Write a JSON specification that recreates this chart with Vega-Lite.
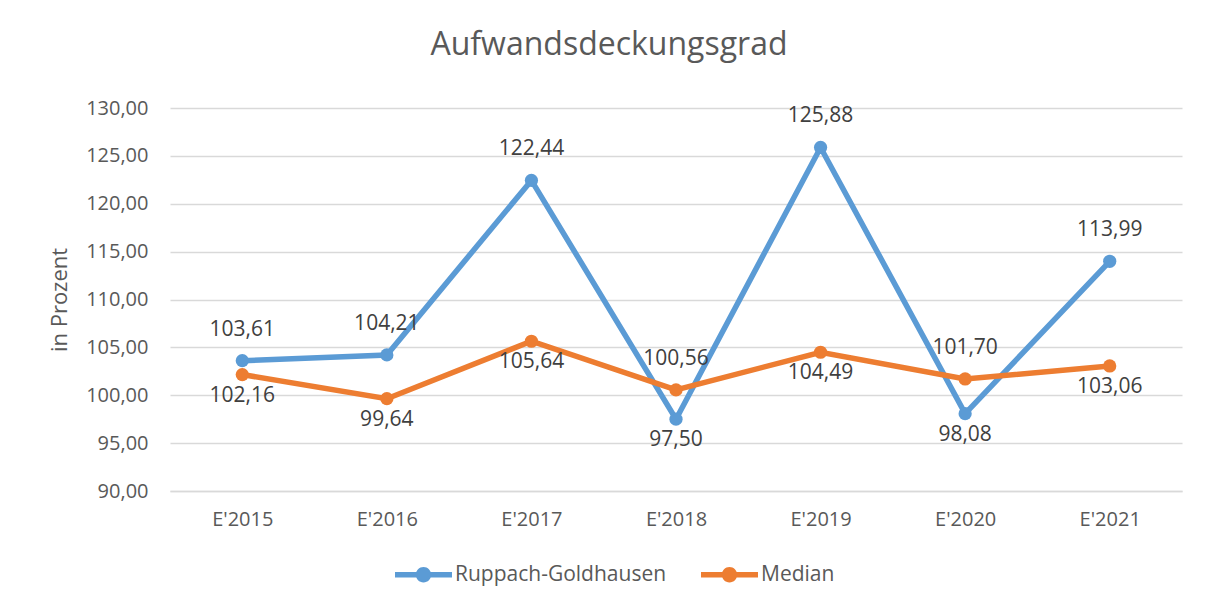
{
  "$schema": "https://vega.github.io/schema/vega-lite/v6.json",
  "width": 1012,
  "height": 383,
  "autosize": {"type": "none"},
  "padding": {"left": 170, "top": 108, "right": 23, "bottom": 117},
  "background": "white",
  "config": {
    "locale": {"number": {"decimal": ",", "thousands": ".", "grouping": [3], "currency": ["", " €"]}},
    "view": {"stroke": null},
    "font": "Open Sans"
  },
  "title": {
    "text": "Aufwandsdeckungsgrad",
    "fontSize": 32,
    "font": "Open Sans",
    "fontWeight": "normal",
    "color": "#595959",
    "anchor": "middle",
    "dx": -67,
    "offset": 36
  },
  "data": {
    "values": [
      {"jahr": "E'2015", "serie": "Ruppach-Goldhausen", "wert": 103.61},
      {"jahr": "E'2016", "serie": "Ruppach-Goldhausen", "wert": 104.21},
      {"jahr": "E'2017", "serie": "Ruppach-Goldhausen", "wert": 122.44},
      {"jahr": "E'2018", "serie": "Ruppach-Goldhausen", "wert": 97.50},
      {"jahr": "E'2019", "serie": "Ruppach-Goldhausen", "wert": 125.88},
      {"jahr": "E'2020", "serie": "Ruppach-Goldhausen", "wert": 98.08},
      {"jahr": "E'2021", "serie": "Ruppach-Goldhausen", "wert": 113.99},
      {"jahr": "E'2015", "serie": "Median", "wert": 102.16},
      {"jahr": "E'2016", "serie": "Median", "wert": 99.64},
      {"jahr": "E'2017", "serie": "Median", "wert": 105.64},
      {"jahr": "E'2018", "serie": "Median", "wert": 100.56},
      {"jahr": "E'2019", "serie": "Median", "wert": 104.49},
      {"jahr": "E'2020", "serie": "Median", "wert": 101.70},
      {"jahr": "E'2021", "serie": "Median", "wert": 103.06}
    ]
  },
  "transform": [
    {"joinaggregate": [{"op": "max", "field": "wert", "as": "maxwert"}], "groupby": ["jahr"]}
  ],
  "encoding": {
    "x": {
      "field": "jahr",
      "type": "ordinal",
      "sort": null,
      "axis": {
        "title": null,
        "labelAngle": 0,
        "labelFontSize": 20,
        "labelFont": "Open Sans",
        "labelColor": "#595959",
        "labelPadding": 18,
        "ticks": false,
        "domainColor": "#d9d9d9",
        "domainWidth": 1.5,
        "grid": false
      }
    },
    "y": {
      "field": "wert",
      "type": "quantitative",
      "scale": {"domain": [90, 130], "nice": false, "zero": false},
      "axis": {
        "title": "in Prozent",
        "titleFontSize": 22,
        "titleFont": "Open Sans",
        "titleFontWeight": "normal",
        "titleColor": "#595959",
        "titlePadding": 14,
        "values": [90, 95, 100, 105, 110, 115, 120, 125, 130],
        "format": ".2f",
        "labelFontSize": 20,
        "labelFont": "Open Sans",
        "labelColor": "#595959",
        "labelPadding": 22,
        "ticks": false,
        "domain": false,
        "grid": true,
        "gridColor": "#d9d9d9",
        "gridWidth": 1.5
      }
    }
  },
  "layer": [
    {
      "mark": {"type": "line", "strokeWidth": 5.5},
      "encoding": {
        "color": {
          "field": "serie",
          "type": "nominal",
          "scale": {"domain": ["Ruppach-Goldhausen", "Median"], "range": ["#5B9BD5", "#ED7D31"]},
          "legend": {
            "title": null,
            "orient": "none",
            "legendX": 225,
            "legendY": 438,
            "direction": "horizontal",
            "symbolType": "M-1,-0.095L-0.24,-0.095L-0.24,0.095L-1,0.095Z M0.24,-0.095L1,-0.095L1,0.095L0.24,0.095Z M-0.27,0A0.27,0.27 0 1,1 0.27,0A0.27,0.27 0 1,1 -0.27,0Z",
            "symbolSize": 3249,
            "symbolStrokeWidth": 0,
            "labelFontSize": 21,
            "labelFont": "Open Sans",
            "labelColor": "#595959",
            "labelOffset": 3,
            "labelLimit": 0,
            "columnPadding": 34
          }
        }
      }
    },
    {
      "mark": {"type": "point", "filled": true, "size": 175, "opacity": 1},
      "encoding": {
        "color": {
          "field": "serie",
          "type": "nominal",
          "scale": {"domain": ["Ruppach-Goldhausen", "Median"], "range": ["#5B9BD5", "#ED7D31"]},
          "legend": {
            "title": null,
            "orient": "none",
            "legendX": 225,
            "legendY": 438,
            "direction": "horizontal",
            "symbolType": "M-1,-0.095L-0.24,-0.095L-0.24,0.095L-1,0.095Z M0.24,-0.095L1,-0.095L1,0.095L0.24,0.095Z M-0.27,0A0.27,0.27 0 1,1 0.27,0A0.27,0.27 0 1,1 -0.27,0Z",
            "symbolSize": 3249,
            "symbolStrokeWidth": 0,
            "labelFontSize": 21,
            "labelFont": "Open Sans",
            "labelColor": "#595959",
            "labelOffset": 3,
            "labelLimit": 0,
            "columnPadding": 34
          }
        }
      }
    },
    {
      "transform": [{"filter": "datum.wert == datum.maxwert"}],
      "mark": {"type": "text", "dy": -31, "baseline": "middle", "fontSize": 21, "font": "Open Sans", "color": "#404040"},
      "encoding": {"text": {"field": "wert", "type": "quantitative", "format": ".2f"}}
    },
    {
      "transform": [{"filter": "datum.wert < datum.maxwert"}],
      "mark": {"type": "text", "dy": 21, "baseline": "middle", "fontSize": 21, "font": "Open Sans", "color": "#404040"},
      "encoding": {"text": {"field": "wert", "type": "quantitative", "format": ".2f"}}
    }
  ]
}
